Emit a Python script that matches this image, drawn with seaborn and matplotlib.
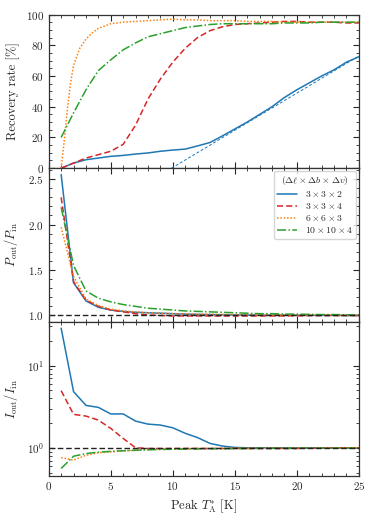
"""
recovery_plot.py
Recovery rate, P_out/P_in and I_out/I_in against peak T_A* for four cube sizes.
"""

import numpy as np
import matplotlib
matplotlib.use("Agg")
import matplotlib.pyplot as plt
from matplotlib.ticker import MultipleLocator
import seaborn as sns

# x grid (K)
t_peak = list(range(1, 26))
t_peak_fine = [1, 1.25, 1.5, 1.75, 2, 2.5, 3, 3.5, 4] + list(range(5, 26))

labels = [r"$3 \times 3 \times 2$", r"$3 \times 3 \times 4$",
          r"$6 \times 6 \times 3$", r"$10 \times 10 \times 4$"]
colors = ["#1f77b4", "#d62728", "#ff7f0e", "#2ca02c"]
styles = ["-", (0, (4, 2)), (0, (1, 1.2)), (0, (6, 1.5, 1, 1.5))]

# recovery rate [%]
rec_332 = [0, 3.3, 5.5, 6.6, 7.7, 8.3, 9.2, 9.9, 11, 11.8, 12.4, 14.5, 16.7,
           21, 25.5, 30, 35, 40, 46, 51, 55.5, 60, 64, 69, 72.5]
rec_334 = [0, 3.3, 6.6, 8.8, 11, 15.5, 28, 45, 58, 69, 78, 85, 89.5,
           92, 93.5, 94, 94.5, 95, 95.5, 95.5, 95, 95, 95, 94.5, 94.5]
rec_663 = [0, 18, 38, 55, 67, 78, 84, 88, 91, 94, 95, 95.5, 96, 96.5, 97,
           96.5, 96.5, 96, 96, 96, 95.5, 95.5, 95.5, 95, 95, 95, 95, 95, 95, 95]
rec_10104 = [20, 36, 51, 63.5, 70.5, 77, 81.5, 85.5, 87.5, 89.5, 91.5, 92.5, 93.5,
             94, 94, 94, 94, 94, 94.5, 94.5, 94.5, 95, 95, 95, 95]
# linear fit to the 3x3x2 recovery curve
fit_x = [9.9, 25]
fit_y = [0, 73]

# P_out / P_in
p_332 = [2.55, 1.36, 1.16, 1.09, 1.06, 1.045, 1.035, 1.03, 1.025, 1.02, 1.015, 1.012,
         1.01, 1.008, 1.006, 1.005, 1.004, 1.003, 1.003, 1.002, 1.002, 1.001, 1.001, 1.0, 1.0]
p_334 = [2.30, 1.37, 1.17, 1.10, 1.06, 1.04, 1.02, 1.005, 1.0, 0.995, 0.995, 0.995,
         0.995, 0.995, 0.995, 0.995, 0.995, 0.995, 0.995, 0.997, 0.998, 0.999, 1.0, 1.0, 1.0]
p_663 = [1.97, 1.43, 1.18, 1.11, 1.07, 1.05, 1.04, 1.03, 1.025, 1.02, 1.018, 1.015,
         1.013, 1.012, 1.01, 1.009, 1.008, 1.007, 1.006, 1.005, 1.004, 1.003, 1.002, 1.001, 1.0]
p_10104 = [2.19, 1.55, 1.27, 1.19, 1.15, 1.12, 1.10, 1.08, 1.07, 1.06, 1.05, 1.045,
           1.04, 1.035, 1.03, 1.025, 1.02, 1.02, 1.015, 1.015, 1.012, 1.01, 1.01, 1.008, 1.005]

# I_out / I_in
i_332 = [28.5, 4.82, 3.28, 3.1, 2.58, 2.58, 2.11, 1.94, 1.89, 1.75, 1.50, 1.33, 1.13,
         1.05, 1.01, 1.0, 1.0, 1.0, 1.0, 1.0, 1.0, 1.0, 1.0, 1.0, 1.0]
i_334 = [4.95, 2.55, 2.43, 2.17, 1.72, 1.30, 1.0, 0.98, 0.98, 0.98, 0.98, 0.98, 0.98,
         0.98, 0.98, 0.98, 0.98, 0.98, 0.98, 0.98, 0.99, 0.99, 1.0, 1.0, 1.0]
i_663 = [0.76, 0.71, 0.81, 0.87, 0.89, 0.92, 0.93, 0.95, 0.96, 0.97, 0.975, 0.98, 0.98,
         0.985, 0.99, 0.99, 0.99, 0.995, 0.995, 1.0, 1.0, 1.0, 1.0, 1.0, 1.0]
i_10104 = [0.56, 0.79, 0.85, 0.885, 0.905, 0.92, 0.935, 0.945, 0.955, 0.96, 0.965, 0.97,
           0.975, 0.975, 0.98, 0.98, 0.985, 0.985, 0.985, 0.99, 0.99, 0.99, 0.99, 0.99, 0.99]

sns.set_style("ticks")
plt.rcParams.update({
    "font.family": "serif",
    "font.serif": ["cmr10", "DejaVu Serif"],
    "mathtext.fontset": "cm",
    "axes.formatter.use_mathtext": True,
    "font.size": 8,
    "axes.labelsize": 9,
    "xtick.labelsize": 8,
    "ytick.labelsize": 8,
    "xtick.direction": "in",
    "ytick.direction": "in",
    "xtick.top": True,
    "ytick.right": True,
    "xtick.minor.visible": True,
    "ytick.minor.visible": True,
    "xtick.major.size": 4,
    "ytick.major.size": 4,
    "xtick.minor.size": 2,
    "ytick.minor.size": 2,
    "axes.linewidth": 0.9,
    "axes.edgecolor": "#333333",
})

fig, axes = plt.subplots(3, 1, figsize=(3.75, 5.18), dpi=100, sharex=True)
fig.subplots_adjust(left=0.13, right=0.957, top=0.972, bottom=0.082, hspace=0)
ax1, ax2, ax3 = axes

lw = 1.1
# top: recovery rate
rec_series = [(t_peak, rec_332), (t_peak, rec_334), (t_peak_fine, rec_663), (t_peak, rec_10104)]
for (xs, ys), c, ls in zip(rec_series, colors, styles):
    sns.lineplot(x=xs, y=ys, ax=ax1, color=c, linestyle=ls, linewidth=lw)
sns.lineplot(x=fit_x, y=fit_y, ax=ax1, color=colors[0], linestyle=(0, (3, 2)), linewidth=0.7)
ax1.set_ylim(0, 100)
ax1.yaxis.set_major_locator(MultipleLocator(20))
ax1.yaxis.set_minor_locator(MultipleLocator(5))
ax1.set_ylabel("Recovery rate [%]")

# middle: P_out / P_in
handles = []
for ys, c, ls, lab in zip([p_332, p_334, p_663, p_10104], colors, styles, labels):
    sns.lineplot(x=t_peak, y=ys, ax=ax2, color=c, linestyle=ls, linewidth=lw)
    handles.append(plt.Line2D([], [], color=c, linestyle=ls, linewidth=lw, label=lab))
ax2.axhline(1.0, color="#222222", linestyle=(0, (4, 2)), linewidth=1.0)
ax2.set_ylim(0.93, 2.62)
ax2.yaxis.set_major_locator(MultipleLocator(0.5))
ax2.yaxis.set_minor_locator(MultipleLocator(0.1))
ax2.set_ylabel(r"$P_{\rm out}/P_{\rm in}$")
ax2.legend(handles=handles, title=r"$(\Delta\ell \times \Delta b \times \Delta v)$",
           loc="upper right", fontsize=7, title_fontsize=7, handlelength=2.0,
           borderaxespad=0.3, labelspacing=0.2, borderpad=0.35, frameon=True)

# bottom: I_out / I_in
for ys, c, ls in zip([i_332, i_334, i_663, i_10104], colors, styles):
    sns.lineplot(x=t_peak, y=ys, ax=ax3, color=c, linestyle=ls, linewidth=lw)
ax3.axhline(1.0, color="#222222", linestyle=(0, (4, 2)), linewidth=1.0)
ax3.set_yscale("log")
ax3.set_ylim(0.46, 34)
ax3.set_ylabel(r"$I_{\rm out}/I_{\rm in}$")

ax3.set_xlim(0, 25)
ax3.xaxis.set_major_locator(MultipleLocator(5))
ax3.xaxis.set_minor_locator(MultipleLocator(1))
ax3.set_xlabel(r"Peak $T_{\rm A}^{*}$ [K]")

fig.align_ylabels(axes)

plt.savefig("out.png", dpi=100)
